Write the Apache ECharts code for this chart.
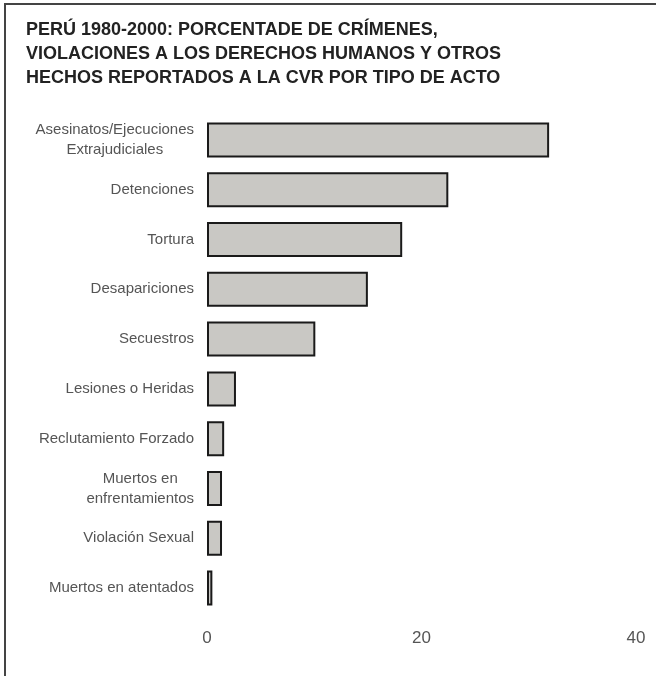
<!DOCTYPE html>
<html>
<head>
<meta charset="utf-8">
<script src="https://cdn.jsdelivr.net/npm/echarts@6/dist/echarts.min.js"></script>
<style>
  html, body { margin: 0; padding: 0; background: #fff; }
  #chart { width: 656px; height: 676px; }
</style>
</head>
<body>
<div id="chart"></div>
<script>
'use strict';

// Tipo de acto (de arriba hacia abajo) y porcentaje reportado a la CVR
const categories = [
  'Asesinatos/Ejecuciones\nExtrajudiciales',
  'Detenciones',
  'Tortura',
  'Desapariciones',
  'Secuestros',
  'Lesiones o Heridas',
  'Reclutamiento Forzado',
  'Muertos en\nenfrentamientos',
  'Violación Sexual',
  'Muertos en atentados',
];
const percentages = [31.9, 22.5, 18.2, 15.0, 10.1, 2.7, 1.6, 1.4, 1.4, 0.5];
const xTicks = [0, 20, 40];

const titleText = 'PERÚ 1980-2000: PORCENTADE DE CRÍMENES,\n' +
  'VIOLACIONES A LOS DERECHOS HUMANOS Y OTROS\n' +
  'HECHOS REPORTADOS A LA CVR POR TIPO DE ACTO';

const FONT = 'Liberation Sans, Arial, sans-serif';

const chart = echarts.init(document.getElementById('chart'));
chart.setOption({
  backgroundColor: '#fff',
  animation: false,
  title: {
    text: titleText,
    left: 21,
    top: 13.5,
    textStyle: {
      fontFamily: FONT,
      fontSize: 18,
      fontWeight: 'bold',
      color: '#222',
      lineHeight: 24,
    },
  },
  graphic: [{
    type: 'polyline',
    shape: { points: [[5, 676], [5, 4], [656, 4]] },
    style: { stroke: '#444', lineWidth: 2, fill: null },
  }],
  grid: { left: 207, right: 20, top: 115, bottom: 63 },
  xAxis: {
    type: 'value',
    min: xTicks[0],
    max: xTicks[xTicks.length - 1],
    interval: xTicks[1] - xTicks[0],
    axisLine: { show: false },
    axisTick: { show: false },
    splitLine: { show: false },
    axisLabel: {
      margin: 17,
      color: '#555',
      fontFamily: FONT,
      fontSize: 17,
    },
  },
  yAxis: {
    type: 'category',
    data: categories,
    inverse: true,
    axisLine: { show: false },
    axisTick: { show: false },
    axisLabel: {
      margin: 13,
      color: '#555',
      fontFamily: FONT,
      fontSize: 15,
      lineHeight: 20,
      formatter(v) {
        if (v.indexOf('\n') < 0) return v;
        return v.split('\n').map((l) => `{c|${l}}`).join('\n');
      },
      rich: {
        c: { align: 'center', fontFamily: FONT, fontSize: 15, lineHeight: 20, color: '#555' },
      },
    },
  },
  series: [{
    type: 'bar',
    data: percentages,
    barWidth: 35,
    itemStyle: {
      color: '#c9c8c4',
      borderColor: '#1a1a1a',
      borderWidth: 2,
    },
  }],
});
</script>
</body>
</html>
